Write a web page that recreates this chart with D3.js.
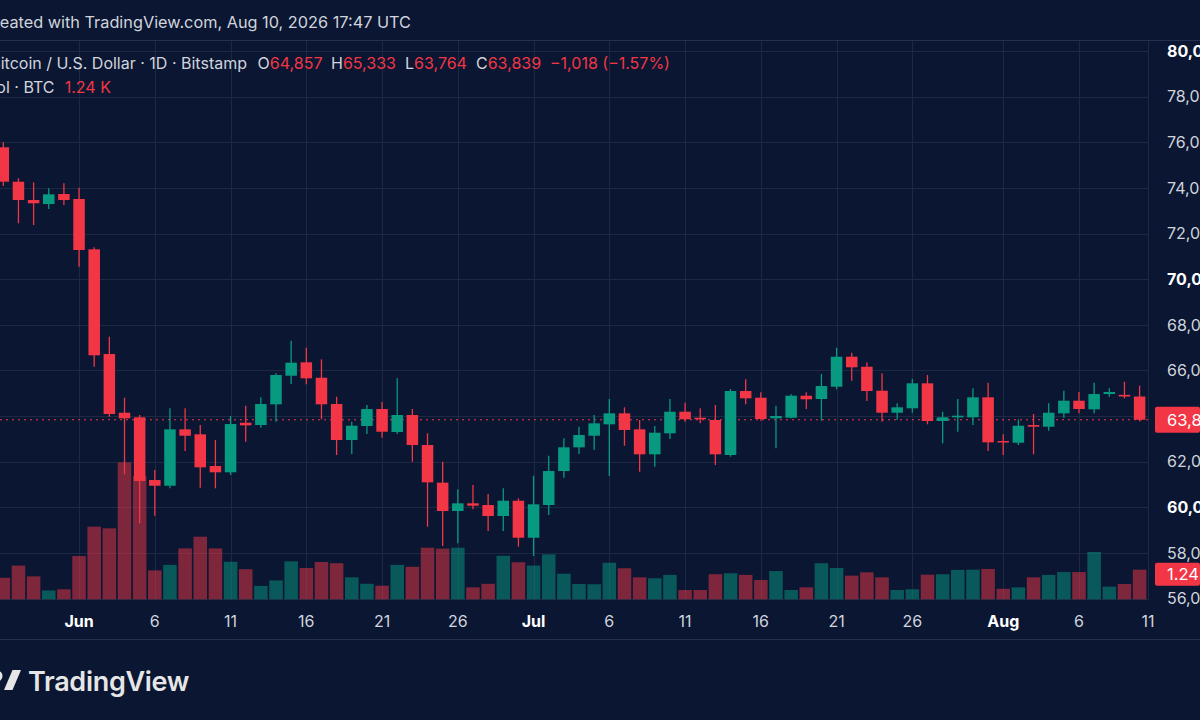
<!DOCTYPE html>
<html>
<head>
<meta charset="utf-8">
<script src="https://cdn.jsdelivr.net/npm/d3@7"></script>
<style>
  html, body { margin: 0; padding: 0; background: #0a1632; overflow: hidden; }
  svg { display: block; font-family: Inter, "Noto Sans", sans-serif; }
</style>
</head>
<body>
<svg id="chart" width="1200" height="720"></svg>
<script>
// daily BTC/USD candles, May 27 -> Aug 10 2026 (one entry per day)
const firstDay = new Date(2026, 4, 27);

const opens = [75779, 74271, 73469, 73294, 73732, 73513, 71308, 66719, 64147, 63945,
  61197, 60947, 63419, 63200, 61811, 61535, 63708, 63607, 64515, 65768,
  66356, 65681, 64528, 62950, 63564, 64309, 63301, 64046, 62731, 61082,
  59838, 60176, 60101, 59619, 60290, 58668, 60101, 61591, 62630, 63138,
  63638, 64120, 63419, 62323, 63244, 64190, 63928, 63827, 62293, 65098,
  64804, 63901, 63928, 64892, 64747, 65286, 66601, 66163, 65111, 64147,
  64340, 65435, 63783, 63945, 63945, 64822, 62906, 62832, 63607, 63533,
  64120, 64673, 64296, 64966, 64930, 64857];
const highs = [75998, 74420, 74245, 73982, 74201, 74008, 71396, 67478, 64804, 64046,
  61635, 64340, 64340, 63607, 62950, 64002, 64453, 64822, 65873, 67302,
  66996, 66487, 64848, 63752, 64484, 64616, 65654, 64309, 63244, 61999,
  60789, 60978, 60583, 60833, 60395, 61385, 62262, 63025, 63533, 64046,
  64747, 64383, 63827, 63564, 64747, 64585, 64340, 64484, 65186, 65610,
  65041, 64453, 64953, 65041, 65843, 66996, 66777, 66356, 65873, 64559,
  65624, 65799, 64190, 64747, 65216, 65462, 63200, 63857, 64090, 64559,
  65111, 65054, 65462, 65216, 65506, 65333];
const lows = [74083, 72448, 72374, 73075, 73250, 70546, 66163, 63971, 61447, 59299,
  59632, 60833, 62468, 60859, 60833, 61416, 62876, 63489, 63752, 65405,
  65392, 63857, 62293, 62337, 63213, 63051, 63213, 61999, 59150, 58304,
  58423, 59912, 58962, 58962, 58273, 57866, 59663, 61298, 62337, 62512,
  61372, 62700, 61561, 61780, 62994, 63752, 63682, 61854, 62218, 64515,
  63796, 62586, 63901, 64309, 63796, 65172, 65549, 64660, 63752, 63827,
  64147, 63638, 62806, 63314, 63607, 62468, 62293, 62731, 62323, 63358,
  63928, 64120, 64120, 64848, 64778, 63764];
const closes = [74271, 73469, 73325, 73719, 73469, 71278, 66663, 64090, 63901, 61153,
  60947, 63419, 63138, 61754, 61535, 63651, 63594, 64528, 65799, 66338,
  65654, 64515, 62950, 63577, 64309, 63314, 64046, 62731, 61096, 59838,
  60176, 60071, 59619, 60290, 58668, 60132, 61591, 62630, 63169, 63682,
  64120, 63389, 62323, 63270, 64190, 63857, 63857, 62323, 65098, 64778,
  63871, 64002, 64892, 64734, 65317, 66601, 66137, 65098, 64147, 64383,
  65435, 63783, 63945, 64016, 64822, 62849, 62849, 63577, 63533, 64147,
  64673, 64309, 64966, 65054, 64857, 63839];
// volume in thousands of BTC
const volumes = [0.90, 1.41, 0.96, 0.37, 0.42, 1.81, 3.04, 2.97, 5.73, 5.17,
  1.21, 1.44, 2.13, 2.62, 2.13, 1.57, 1.26, 0.56, 0.79, 1.59,
  1.31, 1.56, 1.51, 0.92, 0.65, 0.57, 1.44, 1.36, 2.16, 2.12,
  2.16, 0.50, 0.65, 1.82, 1.55, 1.41, 1.88, 1.07, 0.64, 0.63,
  1.53, 1.30, 0.92, 0.88, 1.02, 0.39, 0.39, 1.05, 1.09, 1.02,
  0.81, 1.18, 0.39, 0.50, 1.51, 1.31, 0.99, 1.13, 0.92, 0.39,
  0.42, 1.03, 1.05, 1.23, 1.24, 1.27, 0.44, 0.50, 0.92, 1.02,
  1.14, 1.14, 1.98, 0.53, 0.64, 1.24];

const priceTicks = [56000, 58000, 60000, 62000, 64000, 66000, 68000, 70000, 72000, 74000, 76000, 78000, 80000];
const dateTicks = ["2026-06-01", "2026-06-06", "2026-06-11", "2026-06-16", "2026-06-21", "2026-06-26",
  "2026-07-01", "2026-07-06", "2026-07-11", "2026-07-16", "2026-07-21", "2026-07-26",
  "2026-08-01", "2026-08-06", "2026-08-11"];
const dateLabels = ["Jun", "6", "11", "16", "21", "26", "Jul", "6", "11", "16", "21", "26", "Aug", "6", "11"];

const lastO = 64857, lastH = 65333, lastL = 63764, lastC = 63839, lastVol = 1.24;

// colours
const UP = "#089981", DOWN = "#f23645", TEXT = "#d1d4dc", GRID = "#1d2843";

const W = 1200, H = 720;
const paneRight = 1149, paneTop = 41, paneBottom = 600;

const svg = d3.select("#chart");
svg.append("rect").attr("width", W).attr("height", H).attr("fill", "#0a1632");

const days = opens.map((_, i) => d3.timeDay.offset(firstDay, i));
const parseDay = d3.timeParse("%Y-%m-%d");

const x = d3.scaleTime()
  .domain([days[0], days[days.length - 1]])
  .range([3.3, 1139.6]);
const y = d3.scaleLinear().domain([56000, 80000]).range([598.6, 51]);
const yVol = d3.scaleLinear().domain([0, 1]).range([599.3, 575.4]);

const step = x(days[1]) - x(days[0]);
const bodyW = step * 0.76;
const volW = step - 1.6;

// pane borders
svg.append("line").attr("x1", 0).attr("x2", W).attr("y1", 40.5).attr("y2", 40.5)
  .attr("stroke", "#243050");
svg.append("line").attr("x1", 0).attr("x2", W).attr("y1", 639.5).attr("y2", 639.5)
  .attr("stroke", "#243050");

// grid
const grid = svg.append("g");
grid.selectAll("line.h")
  .data(priceTicks).enter()
  .append("line")
  .attr("x1", 0).attr("x2", paneRight)
  .attr("y1", d => Math.round(y(d)) + 0.5)
  .attr("y2", d => Math.round(y(d)) + 0.5)
  .attr("stroke", GRID);
grid.selectAll("line.v")
  .data(dateTicks).enter()
  .append("line")
  .attr("x1", d => Math.round(Math.min(x(parseDay(d)), paneRight - 1)) + 0.5)
  .attr("x2", d => Math.round(Math.min(x(parseDay(d)), paneRight - 1)) + 0.5)
  .attr("y1", paneTop).attr("y2", paneBottom)
  .attr("stroke", GRID);

// volume
svg.append("g")
  .selectAll("rect")
  .data(days).enter()
  .append("rect")
  .attr("x", (d, i) => x(d) - volW / 2)
  .attr("y", (d, i) => yVol(volumes[i]))
  .attr("width", volW)
  .attr("height", (d, i) => yVol(0) - yVol(volumes[i]))
  .attr("fill", (d, i) => closes[i] >= opens[i] ? UP : DOWN)
  .attr("fill-opacity", 0.5);

// last price dotted line
svg.append("line")
  .attr("x1", 0).attr("x2", paneRight)
  .attr("y1", y(lastC)).attr("y2", y(lastC))
  .attr("stroke", DOWN).attr("stroke-width", 1.2)
  .attr("stroke-dasharray", "2,4");

// candles
const candles = svg.append("g")
  .selectAll("g")
  .data(days).enter()
  .append("g");
candles.append("line")
  .attr("x1", d => x(d)).attr("x2", d => x(d))
  .attr("y1", (d, i) => y(highs[i]))
  .attr("y2", (d, i) => y(lows[i]))
  .attr("stroke", (d, i) => closes[i] >= opens[i] ? UP : DOWN)
  .attr("stroke-width", 1.3);
candles.append("rect")
  .attr("x", d => x(d) - bodyW / 2)
  .attr("y", (d, i) => y(Math.max(opens[i], closes[i])))
  .attr("width", bodyW)
  .attr("height", (d, i) => Math.max(1.5, Math.abs(y(opens[i]) - y(closes[i]))))
  .attr("fill", (d, i) => closes[i] >= opens[i] ? UP : DOWN);

// price axis (labels hidden under the last-price tag are skipped, like TradingView)
const fmt = d3.format(",");
svg.append("g")
  .selectAll("text")
  .data(priceTicks.filter(t => Math.abs(y(t) - y(lastC)) > 16)).enter()
  .append("text")
  .attr("x", 1167)
  .attr("y", d => y(d))
  .attr("dy", "0.36em")
  .attr("font-size", 16)
  .attr("font-weight", d => d % 10000 === 0 ? 700 : 400)
  .attr("fill", d => d % 10000 === 0 ? "#ffffff" : TEXT)
  .text(d => fmt(d));

// last price + volume labels
svg.append("rect").attr("x", 1155).attr("y", y(lastC) - 13).attr("width", 45).attr("height", 26)
  .attr("rx", 2).attr("fill", DOWN);
svg.append("text").attr("x", 1167).attr("y", y(lastC)).attr("dy", "0.36em")
  .attr("font-size", 16.5).attr("fill", "#fff").text(fmt(lastC));
svg.append("rect").attr("x", 1155).attr("y", yVol(lastVol) - 7).attr("width", 45).attr("height", 23)
  .attr("rx", 2).attr("fill", DOWN);
svg.append("text").attr("x", 1167).attr("y", yVol(lastVol) + 4.5).attr("dy", "0.36em")
  .attr("font-size", 16.5).attr("fill", "#fff").text(lastVol + "K");

// date axis
svg.append("g")
  .selectAll("text")
  .data(dateTicks).enter()
  .append("text")
  .attr("x", d => Math.min(x(parseDay(d)), paneRight - 1))
  .attr("y", 621)
  .attr("dy", "0.36em")
  .attr("text-anchor", "middle")
  .attr("font-size", 16)
  .attr("font-weight", (d, i) => isNaN(+dateLabels[i]) ? 700 : 400)
  .attr("fill", (d, i) => isNaN(+dateLabels[i]) ? "#ffffff" : TEXT)
  .text((d, i) => dateLabels[i]);

// header + legend
svg.append("text").attr("x", 411).attr("y", 28).attr("text-anchor", "end")
  .attr("font-size", 16.3).attr("fill", TEXT)
  .text("Created with TradingView.com, Aug 10, 2026 17:47 UTC");

svg.append("text").attr("x", 247).attr("y", 69).attr("text-anchor", "end")
  .attr("font-size", 16).attr("fill", TEXT)
  .text("Bitcoin / U.S. Dollar · 1D · Bitstamp");

const ohlc = [["O", lastO, 257.6], ["H", lastH, 331], ["L", lastL, 405], ["C", lastC, 476]];
ohlc.forEach(([k, v, px]) => {
  const t = svg.append("text").attr("x", px).attr("y", 69).attr("font-size", 16);
  t.append("tspan").attr("fill", TEXT).text(k);
  t.append("tspan").attr("fill", DOWN).text(fmt(v));
});
const chg = lastC - lastO;
svg.append("text").attr("x", 550).attr("y", 69).attr("font-size", 16).attr("fill", DOWN)
  .text("\u2212" + fmt(Math.abs(chg)) + " (\u2212" + (Math.abs(chg) / lastO * 100).toFixed(2) + "%)");

svg.append("text").attr("x", 54.5).attr("y", 93).attr("text-anchor", "end")
  .attr("font-size", 16).attr("fill", TEXT).text("Vol · BTC");
svg.append("text").attr("x", 64.7).attr("y", 93)
  .attr("font-size", 16).attr("fill", DOWN).text(lastVol + " K");

// watermark logo
svg.append("circle").attr("cx", -3).attr("cy", 676).attr("r", 5.5).attr("fill", "#e6e6e6");
svg.append("path").attr("d", "M4,690 L12.5,690 L21,670 L12.5,670 Z").attr("fill", "#e6e6e6");
svg.append("text").attr("x", 28).attr("y", 691)
  .attr("font-size", 27).attr("font-weight", 600).attr("fill", "#e6e6e6")
  .attr("letter-spacing", -0.3)
  .text("TradingView");
</script>
</body>
</html>
